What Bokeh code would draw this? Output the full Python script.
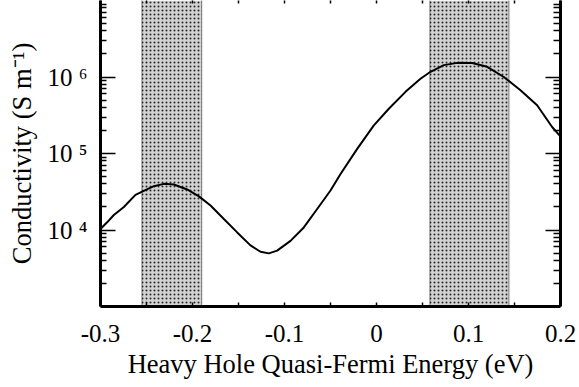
from bokeh.plotting import figure
from bokeh.models import (Range1d, FixedTicker, LinearAxis, LogAxis, BoxAnnotation, Span,
                          CustomLabelingPolicy)
from bokeh.embed import file_html
from bokeh.resources import INLINE

# ---- data ----
energy = [-0.300, -0.2928, -0.2855, -0.2746, -0.2620, -0.2547, -0.242, -0.2312, -0.2203,
          -0.2058, -0.193, -0.1804, -0.1659, -0.1514, -0.1370, -0.1261, -0.117, -0.108,
          -0.0935, -0.079, -0.0645, -0.050, -0.0391, -0.021, -0.0029, 0.0134, 0.0315,
          0.0478, 0.0587, 0.0732, 0.0877, 0.1040, 0.1203, 0.1384, 0.1565, 0.1746,
          0.1909, 0.1982, 0.200]
conductivity = [1.03e4, 1.26e4, 1.57e4, 2.0e4, 2.88e4, 3.18e4, 3.74e4, 4.01e4, 3.94e4,
                3.39e4, 2.75e4, 2.09e4, 1.39e4, 9.3e3, 6.3e3, 5.2e3, 4.95e3, 5.37e3,
                7.2e3, 1.08e4, 1.88e4, 3.28e4, 5.4e4, 1.15e5, 2.33e5, 3.85e5, 6.4e5,
                9.5e5, 1.17e6, 1.43e6, 1.53e6, 1.52e6, 1.36e6, 1.0e6, 6.7e5, 4.27e5,
                2.22e5, 1.76e5, 1.66e5]

band_left = [-0.255, 0.058]
band_right = [-0.19, 0.144]

xticks = [-0.3, -0.2, -0.1, 0.0, 0.1, 0.2]
xtick_labels = ["-0.3", "-0.2", "-0.1", "0", "0.1", "0.2"]
xminor = [-0.25, -0.15, -0.05, 0.05, 0.15]

yticks = [1e4, 1e5, 1e6]
ytick_labels = ["10 \u2074", "10 \u2075", "10 \u2076"]
yminor = [m * 10 ** d for d in range(3, 7) for m in range(2, 10)]

FONT = "'Liberation Serif', 'Times New Roman', serif"

p = figure(width=579, height=387, output_backend="svg", toolbar_location=None,
           x_range=Range1d(-0.3, 0.2), y_range=Range1d(1e3, 1e7), y_axis_type="log",
           min_border_left=100, min_border_right=19, min_border_top=0, min_border_bottom=81)
p.outline_line_color = None
p.grid.visible = False
p.background_fill_color = "white"
p.border_fill_color = "white"

# shaded bands
for l, r in zip(band_left, band_right):
    p.add_layout(BoxAnnotation(left=l, right=r, fill_color="#d2d2d2", fill_alpha=1.0,
                               hatch_pattern="dot", hatch_color="#262626", hatch_scale=4,
                               hatch_weight=3, line_color=None, level="underlay"))
    for loc in (l, r):
        p.add_layout(Span(location=loc, dimension="height", line_color="#111111",
                          line_width=1, line_dash="1 1", level="underlay"))

p.line(energy, conductivity, line_color="black", line_width=2)

# bottom axis
xa = p.xaxis[0]
xa.ticker = FixedTicker(ticks=xticks, minor_ticks=xminor)
xa.major_label_overrides = {t: s for t, s in zip(xticks, xtick_labels)}
xa.axis_label = "Heavy Hole Quasi-Fermi Energy (eV)"
# left axis
ya = p.yaxis[0]
ya.ticker = FixedTicker(ticks=yticks, minor_ticks=yminor)
ya.major_label_overrides = {t: s for t, s in zip(yticks, ytick_labels)}
ya.axis_label = "Conductivity (S m\u207b\u00b9)"

for ax in (xa, ya):
    ax.axis_line_width = 3
    ax.axis_line_color = "black"
    ax.major_tick_out = 0
    ax.minor_tick_out = 0
    ax.major_tick_line_width = 1.5
    ax.minor_tick_line_width = 1.5
    ax.major_label_text_font = FONT
    ax.major_label_text_font_size = "25px"
    ax.major_label_text_color = "black"
    ax.axis_label_text_font = FONT
    ax.axis_label_text_font_size = "26.5px"
    ax.axis_label_text_font_style = "normal"
    ax.axis_label_text_color = "black"

xa.major_tick_in = 4
xa.minor_tick_in = 4
xa.major_label_standoff = 18
xa.axis_label_standoff = 4
ya.major_tick_in = 15
ya.minor_tick_in = 6
ya.major_label_standoff = 13
ya.axis_label_standoff = 8

# right axis (ticks only, labels suppressed by a labeling policy)
ra = LogAxis(ticker=FixedTicker(ticks=yticks, minor_ticks=yminor),
             major_label_policy=CustomLabelingPolicy(code=""),
             major_label_text_font_size="2px", major_label_standoff=0,
             axis_line_width=3, major_tick_out=0, minor_tick_out=0,
             major_tick_in=15, minor_tick_in=7,
             major_tick_line_width=1.5, minor_tick_line_width=1.5)
p.add_layout(ra, "right")

# top axis (ticks only, no line, no labels)
ta = LinearAxis(ticker=FixedTicker(ticks=[], minor_ticks=sorted(xticks + xminor)),
                axis_line_color=None, major_tick_out=0, minor_tick_out=0,
                major_tick_in=3, minor_tick_in=3, major_label_standoff=0,
                major_tick_line_width=1.5, minor_tick_line_width=1.5)
p.add_layout(ta, "above")

open("out.html", "w").write(file_html(p, INLINE))
